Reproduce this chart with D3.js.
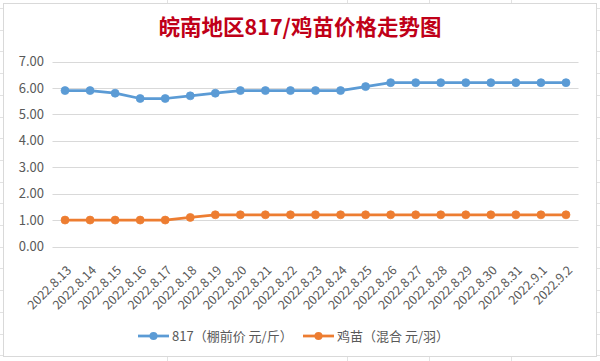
<!DOCTYPE html>
<html><head><meta charset="utf-8">
<script src="https://cdn.jsdelivr.net/npm/d3@7"></script>
<style>html,body{margin:0;padding:0;background:#fff;}svg{display:block;}</style>
</head><body>
<svg id="c" width="600" height="361"></svg>
<script>
const titleText = "皖南地区817/鸡苗价格走势图";
const categories = ["2022.8.13","2022.8.14","2022.8.15","2022.8.16","2022.8.17","2022.8.18","2022.8.19","2022.8.20","2022.8.21","2022.8.22","2022.8.23","2022.8.24","2022.8.25","2022.8.26","2022.8.27","2022.8.28","2022.8.29","2022.8.30","2022.8.31","2022.9.1","2022.9.2"];
const series817 = [5.9,5.9,5.8,5.6,5.6,5.7,5.8,5.9,5.9,5.9,5.9,5.9,6.05,6.2,6.2,6.2,6.2,6.2,6.2,6.2,6.2];
const seriesChick = [1.0,1.0,1.0,1.0,1.0,1.1,1.2,1.2,1.2,1.2,1.2,1.2,1.2,1.2,1.2,1.2,1.2,1.2,1.2,1.2,1.2];
const seriesNames = ["817（棚前价 元/斤）","鸡苗（混合 元/羽）"];
const seriesColors = ["#5b9bd5","#ed7d31"];
const yTicks = [0,1,2,3,4,5,6,7];

const svg = d3.select("#c");
const FONT = "'Noto Sans CJK SC','Noto Sans',sans-serif";

// spreadsheet background lines
const sheet = svg.append("g").attr("stroke","#e2e2e2").attr("stroke-width",1);
[167,347,429,511].forEach(x=>{
  sheet.append("line").attr("x1",x+0.5).attr("x2",x+0.5).attr("y1",0).attr("y2",361);
});
d3.range(8,361,21.7).forEach(y=>{
  sheet.append("line").attr("x1",0).attr("x2",600).attr("y1",Math.round(y)+0.5).attr("y2",Math.round(y)+0.5);
});
// chart area
svg.append("rect").attr("x",3.5).attr("y",3.5).attr("width",593).attr("height",353)
  .attr("fill","#fff").attr("stroke","#d9d9d9");

const x = d3.scalePoint().domain(categories).range([52.5,578.5]).padding(0.5);
const y = d3.scaleLinear().domain([0,7]).range([246.5,61.5]);

// gridlines
const grid = svg.append("g");
grid.selectAll("line").data(yTicks).join("line")
  .attr("x1",52.5).attr("x2",578.5)
  .attr("y1",d=>Math.round(y(d))+0.5).attr("y2",d=>Math.round(y(d))+0.5)
  .attr("stroke","#d9d9d9").attr("stroke-width",1);

// y axis labels
const yAxis = d3.axisLeft(y).tickValues(yTicks).tickFormat(d3.format(".2f")).tickSize(0).tickPadding(0);
const ya = svg.append("g").attr("transform","translate(44,0)").call(yAxis);
ya.select(".domain").remove();
ya.selectAll("text").attr("font-family",FONT).attr("font-size",13).attr("fill","#595959");

// x axis labels
const xAxis = d3.axisBottom(x).tickSize(0).tickPadding(0);
const xa = svg.append("g").call(xAxis);
xa.select(".domain").remove();
xa.selectAll(".tick").attr("transform",d=>`translate(${x(d)+4},268)`);
xa.selectAll("text").attr("font-family",FONT).attr("font-size",12.5).attr("fill","#595959")
  .attr("text-anchor","end").attr("y",0).attr("dy","0.35em").attr("transform","rotate(-45)");

// lines
const data = [series817, seriesChick];
const line = d3.line().x((d,i)=>x(categories[i])).y(d=>y(d));
data.forEach((s,k)=>{
  const g = svg.append("g");
  g.append("path").datum(s).attr("d",line).attr("fill","none")
    .attr("stroke",seriesColors[k]).attr("stroke-width",2.75).attr("stroke-linejoin","round");
  g.selectAll("circle").data(s).join("circle")
    .attr("cx",(d,i)=>x(categories[i])).attr("cy",d=>y(d)).attr("r",4)
    .attr("fill",seriesColors[k]).attr("stroke",seriesColors[k]).attr("stroke-width",0.75);
});

// title
svg.append("text").attr("x",300).attr("y",35).attr("text-anchor","middle")
  .attr("font-family",FONT).attr("font-size",21.5).attr("font-weight","bold")
  .attr("fill","#c00018").text(titleText);

// legend
const legendX = [138, 303];
seriesNames.forEach((n,k)=>{
  const g = svg.append("g").attr("transform",`translate(${legendX[k]},336)`);
  g.append("line").attr("x1",0).attr("x2",31).attr("y1",0).attr("y2",0)
    .attr("stroke",seriesColors[k]).attr("stroke-width",2.75);
  g.append("circle").attr("cx",15.5).attr("cy",0).attr("r",4).attr("fill",seriesColors[k]);
  g.append("text").attr("x",34).attr("y",0).attr("dy","0.35em")
    .attr("font-family",FONT).attr("font-size",13).attr("fill","#595959").text(n);
});
</script>
</body></html>
